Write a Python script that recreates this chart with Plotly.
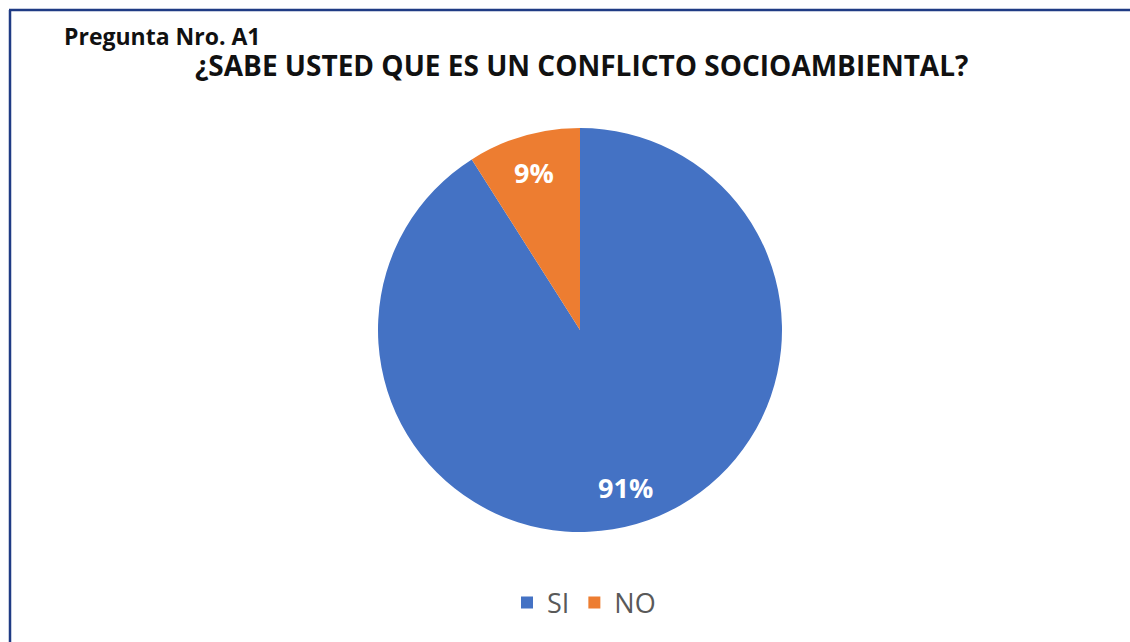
import math
import plotly.graph_objects as go

labels = ["SI", "NO"]
values = [91, 9]
colors = ["#4472C4", "#ED7D31"]
subtitle = "Pregunta Nro. A1"
title = "¿SABE USTED QUE ES UN CONFLICTO SOCIOAMBIENTAL?"

W, H = 1130, 642
cx, cy, r = 580, 330, 202

fig = go.Figure(go.Pie(
    labels=labels, values=values, sort=False, direction="clockwise", rotation=0,
    marker=dict(colors=colors, line=dict(color="rgba(0,0,0,0)", width=0)),
    textinfo="none",
    domain=dict(x=[(cx - r) / W, (cx + r) / W], y=[1 - (cy + r) / H, 1 - (cy - r) / H]),
    hoverinfo="label+percent",
))

# data labels placed near the mid-angle of each slice (computed from the values)
total = sum(values)
label_ann = []
acc = 0
for v in values:
    mid = (acc + v / 2) / total * 2 * math.pi
    acc += v
    k = 0.81 * r
    px = cx + math.sin(mid) * k
    py = cy - math.cos(mid) * k
    label_ann.append(dict(text=f"{round(v / total * 100)}%", x=px / W, y=1 - py / H,
                          xref="paper", yref="paper", xanchor="center", yanchor="middle",
                          showarrow=False,
                          font=dict(family="Open Sans", size=27, color="white", weight="bold")))

fig.update_layout(
    width=W, height=H, margin=dict(l=0, r=0, t=0, b=0),
    paper_bgcolor="white", plot_bgcolor="white",
    showlegend=True,
    legend=dict(orientation="h", x=584 / W, xanchor="center", y=1 - 603 / H, yanchor="middle",
                font=dict(family="Open Sans", size=27, color="#595959"), itemwidth=30,
                traceorder="normal"),
    annotations=[
        dict(text=subtitle, x=62 / W, y=1 - 36 / H, xref="paper", yref="paper",
             xanchor="left", yanchor="middle", showarrow=False,
             font=dict(family="Open Sans", size=23, color="#111111", weight="bold")),
        dict(text=title, x=581 / W, y=1 - 65 / H, xref="paper", yref="paper",
             xanchor="center", yanchor="middle", showarrow=False,
             font=dict(family="Open Sans", size=28, color="#111111", weight="bold")),
    ] + label_ann,
    shapes=[
        dict(type="line", xref="paper", yref="paper", x0=9 / W, x1=1, y0=1 - 10 / H, y1=1 - 10 / H,
             line=dict(color="#1F3B84", width=2.5)),
        dict(type="line", xref="paper", yref="paper", x0=10 / W, x1=10 / W, y0=1 - 10 / H, y1=0,
             line=dict(color="#1F3B84", width=2.5)),
    ],
)

fig.write_html("out.html")
